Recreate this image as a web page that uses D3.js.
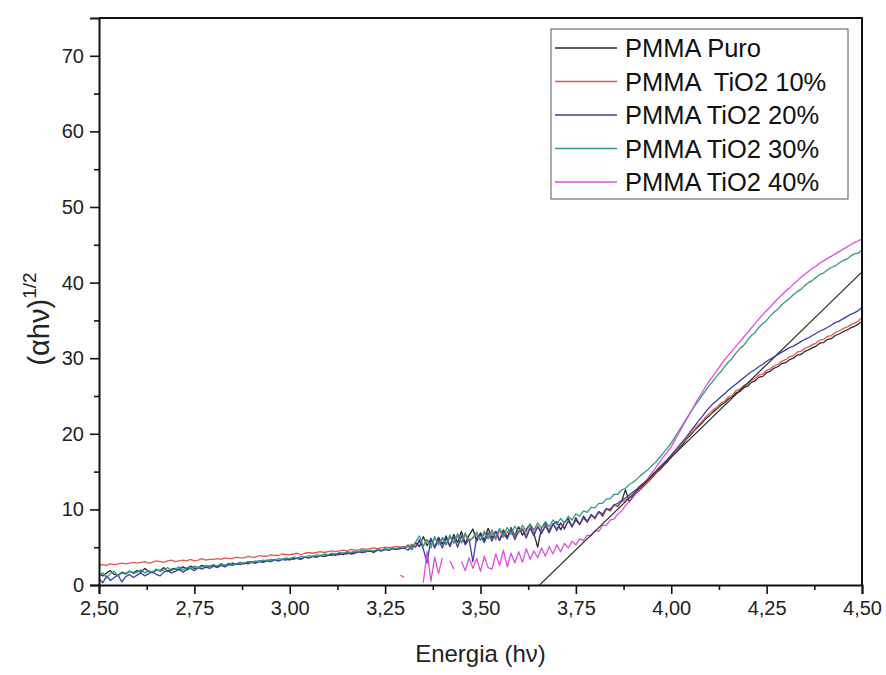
<!DOCTYPE html>
<html>
<head>
<meta charset="utf-8">
<script src="https://cdn.jsdelivr.net/npm/d3@7"></script>
<style>
  body { margin: 0; background: #fff; }
  svg { font-family: "Liberation Sans", Arial, sans-serif; }
</style>
</head>
<body>
<svg id="chart" width="886" height="675"></svg>
<script>
// energy grid, 2.50 .. 4.50 every 0.01 eV
const energy = d3.range(0, 201).map(i => +(2.5 + i * 0.01).toFixed(2));

const puro = [
  1.5, 1.2, 1.6, 1.9, 1.4, 1.3, 1.7, 1.5, 1.8, 1.6,
  1.9, 1.7, 2.2, 1.8, 1.6, 2.0, 1.9, 2.3, 1.8, 2.1,
  2.2, 2.0, 2.4, 2.1, 2.5, 2.2, 2.3, 2.6, 2.3, 2.5,
  2.6, 2.4, 2.8, 2.6, 2.7, 2.9, 2.7, 3.0, 2.8, 3.0,
  3.1, 2.9, 3.2, 3.0, 3.3, 3.1, 3.4, 3.2, 3.4, 3.5,
  3.3, 3.6, 3.5, 3.4, 3.7, 3.6, 3.8, 3.7, 3.9, 3.8,
  3.9, 4.1, 3.9, 4.2, 4.0, 4.3, 4.1, 4.2, 4.4, 4.3,
  4.4, 4.5, 4.3, 4.6, 4.5, 4.7, 4.6, 4.8, 4.7, 4.9,
  4.8, 5.3, 4.7, 5.6, 5.1, 6.4, 5.2, 6.1, 5.0, 6.3,
  5.4, 6.5, 5.1, 6.7, 5.6, 7.1, 5.5, 6.6, 7.4, 5.8,
  6.9, 5.9, 7.5, 6.2, 7.1, 5.9, 7.3, 6.3, 7.6, 6.5,
  7.7, 6.6, 7.4, 8.0, 6.8, 5.0, 7.6, 8.2, 7.0, 8.0,
  8.4, 7.3, 8.3, 8.8, 7.7, 8.9, 8.0, 9.1, 8.4, 9.3,
  8.8, 9.7, 9.1, 10.1, 9.8, 10.6, 10.4, 11.1, 12.6, 11.0,
  11.8, 12.2, 12.7, 13.2, 13.7, 14.2, 14.8, 15.2, 15.8, 16.3,
  16.9, 17.5, 18.1, 18.6, 19.3, 19.8, 20.4, 20.9, 21.4, 22.0,
  22.4, 22.9, 23.3, 23.8, 24.1, 24.6, 24.9, 25.4, 25.6, 26.1,
  26.3, 26.8, 27.0, 27.5, 27.6, 28.1, 28.3, 28.7, 28.9, 29.3,
  29.4, 29.8, 30.0, 30.4, 30.5, 30.9, 31.1, 31.4, 31.6, 32.0,
  32.1, 32.5, 32.6, 33.0, 33.2, 33.5, 33.7, 34.0, 34.2, 34.5,
  34.9
];

const tio2_10 = [
  2.6, 2.7, 2.6, 2.8, 2.7, 2.8, 2.9, 2.8, 2.9, 3.0,
  2.9, 3.0, 3.1, 2.9, 3.0, 3.2, 3.1, 3.0, 3.2, 3.3,
  3.1, 3.2, 3.3, 3.2, 3.4, 3.2, 3.3, 3.5, 3.3, 3.4,
  3.4, 3.5, 3.4, 3.6, 3.5, 3.5, 3.7, 3.6, 3.6, 3.8,
  3.7, 3.7, 3.9, 3.8, 3.8, 4.0, 3.9, 3.9, 4.1, 4.0,
  4.0, 4.1, 4.2, 4.0, 4.2, 4.3, 4.2, 4.3, 4.4, 4.3,
  4.4, 4.5, 4.4, 4.5, 4.6, 4.5, 4.7, 4.6, 4.6, 4.8,
  4.7, 4.8, 4.9, 4.8, 4.9, 5.0, 4.9, 5.0, 5.1, 5.0,
  5.1, 5.0, 5.4, 5.1, 5.7, 5.2, 6.0, 5.3, 6.2, 5.5,
  6.1, 5.3, 6.3, 5.7, 6.4, 5.6, 6.6, 5.8, 6.2, 6.7,
  5.9, 6.8, 6.1, 6.9, 6.0, 7.2, 6.3, 7.0, 7.4, 6.4,
  7.2, 7.5, 6.6, 7.6, 6.9, 7.8, 7.0, 7.9, 7.3, 8.1,
  7.5, 8.2, 7.6, 8.4, 7.9, 8.6, 8.1, 8.9, 8.5, 9.2,
  8.8, 9.6, 9.3, 10.0, 9.9, 10.5, 10.5, 11.0, 11.2, 11.6,
  11.9, 12.4, 12.8, 13.3, 13.8, 14.3, 14.8, 15.3, 15.9, 16.4,
  17.0, 17.6, 18.2, 18.8, 19.4, 20.0, 20.5, 21.1, 21.6, 22.2,
  22.7, 23.2, 23.5, 24.1, 24.3, 24.9, 25.1, 25.7, 25.9, 26.4,
  26.6, 27.1, 27.3, 27.8, 27.9, 28.4, 28.6, 29.0, 29.2, 29.6,
  29.8, 30.2, 30.3, 30.8, 30.9, 31.3, 31.5, 31.8, 32.0, 32.4,
  32.5, 32.9, 33.0, 33.4, 33.6, 33.9, 34.1, 34.4, 34.6, 34.9,
  35.4
];

const tio2_20 = [
  0.8, 0.3, 1.2, 0.6, 1.0, 1.3, 0.4, 1.1, 1.4, 1.0,
  1.3, 1.6, 1.2, 1.5, 1.8, 1.4, 1.2, 1.7, 1.9, 1.6,
  1.8, 2.1, 1.7, 2.0, 2.2, 1.9, 2.3, 2.1, 2.4, 2.2,
  2.5, 2.3, 2.6, 2.4, 2.7, 2.6, 2.8, 2.7, 2.9, 2.8,
  3.0, 2.9, 3.1, 3.0, 3.2, 3.1, 3.3, 3.2, 3.4, 3.3,
  3.5, 3.4, 3.6, 3.5, 3.7, 3.6, 3.8, 3.7, 3.9, 3.8,
  4.0, 3.9, 4.1, 4.0, 4.2, 4.1, 4.3, 4.2, 4.4, 4.3,
  4.4, 4.5, 4.4, 4.6, 4.5, 4.7, 4.6, 4.8, 4.7, 4.8,
  4.9, 4.6, 5.2, 5.0, 6.0, 4.8, 2.9, 6.2, 4.9, 6.0,
  4.9, 6.2, 5.1, 6.4, 5.0, 6.5, 5.3, 6.1, 3.1, 6.3,
  6.6, 5.6, 6.9, 5.8, 7.1, 5.9, 6.9, 6.1, 7.3, 6.0,
  7.1, 7.3, 6.2, 7.5, 6.5, 7.7, 6.8, 7.8, 6.9, 8.1,
  7.2, 8.2, 7.4, 8.5, 7.7, 8.6, 8.0, 8.9, 8.3, 9.3,
  8.9, 9.7, 9.4, 10.1, 10.0, 10.6, 10.8, 11.2, 11.5, 11.9,
  12.3, 12.7, 13.2, 13.6, 14.1, 14.6, 15.1, 15.6, 16.1, 16.6,
  17.2, 17.8, 18.4, 19.0, 19.6, 20.3, 20.9, 21.6, 22.2, 22.9,
  23.5, 24.0, 24.4, 24.9, 25.3, 25.8, 26.2, 26.6, 27.0, 27.4,
  27.8, 28.2, 28.5, 28.9, 29.2, 29.6, 29.9, 30.2, 30.5, 30.8,
  31.1, 31.4, 31.6, 31.9, 32.2, 32.5, 32.7, 33.0, 33.3, 33.6,
  33.8, 34.1, 34.4, 34.7, 34.9, 35.2, 35.5, 35.8, 36.0, 36.3,
  36.7
];

const tio2_30 = [
  1.3, 1.6, 0.9, 1.5, 1.8, 1.2, 1.6, 1.4, 1.9, 1.5,
  1.7, 2.0, 1.6, 1.9, 1.7, 2.1, 1.8, 2.0, 2.3, 1.9,
  2.1, 2.4, 2.0, 2.3, 2.2, 2.5, 2.3, 2.4, 2.6, 2.5,
  2.7, 2.5, 2.8, 2.6, 2.9, 2.7, 2.8, 3.0, 2.9, 3.1,
  3.0, 3.2, 3.1, 3.3, 3.2, 3.4, 3.3, 3.5, 3.4, 3.6,
  3.5, 3.7, 3.6, 3.8, 3.7, 3.9, 3.8, 4.0, 3.9, 4.1,
  4.0, 4.2, 4.1, 4.3, 4.2, 4.4, 4.3, 4.5, 4.4, 4.6,
  4.5, 4.6, 4.5, 4.7, 4.6, 4.8, 4.7, 4.9, 4.8, 5.0,
  4.9, 5.3, 4.8, 5.7, 6.5, 5.1, 6.0, 4.9, 6.4, 5.3,
  6.3, 5.4, 6.6, 5.5, 6.8, 5.6, 6.9, 5.8, 6.3, 7.0,
  5.9, 7.1, 6.2, 7.3, 6.3, 7.5, 6.5, 7.6, 6.7, 7.8,
  6.9, 7.9, 7.1, 8.1, 7.3, 8.2, 7.5, 8.4, 7.7, 8.6,
  8.0, 8.8, 8.2, 9.1, 8.6, 9.4, 9.1, 9.8, 9.6, 10.3,
  10.2, 10.8, 10.8, 11.4, 11.4, 12.0, 12.0, 12.6, 12.8, 13.3,
  13.6, 14.0, 14.5, 14.9, 15.3, 15.8, 16.3, 16.9, 17.5, 18.1,
  18.8, 19.6, 20.4, 21.2, 22.0, 22.8, 23.6, 24.3, 25.0, 25.7,
  26.4, 27.0, 27.7, 28.2, 28.9, 29.5, 30.0, 30.7, 31.3, 31.7,
  32.4, 33.0, 33.4, 34.1, 34.6, 35.0, 35.6, 36.1, 36.5, 37.1,
  37.5, 37.9, 38.4, 38.8, 39.1, 39.6, 40.0, 40.3, 40.7, 41.1,
  41.3, 41.7, 42.0, 42.2, 42.6, 42.9, 43.1, 43.5, 43.8, 43.9,
  44.3
];

// null = no data drawn (gaps in the 40% trace)
const tio2_40 = [
  null, null, null, null, null, null, null, null, null, null,
  null, null, null, null, null, null, null, null, null, null,
  null, null, null, null, null, null, null, null, null, null,
  null, null, null, null, null, null, null, null, null, null,
  null, null, null, null, null, null, null, null, null, null,
  null, null, null, null, null, null, null, null, null, null,
  null, null, null, null, null, null, null, null, null, null,
  null, null, null, null, null, null, null, null, null, 1.3,
  1.0, null, null, null, null, 0.3, 4.4, 0.5, 3.7, 1.5,
  3.6, null, 3.2, 2.1, null, 3.1, 1.9, 3.6, 2.2, 3.5,
  1.8, 3.8, 2.3, 2.1, 4.1, 2.6, 4.6, 2.4, 4.2, 2.9,
  4.4, 3.0, 4.8, 3.4, 4.5, 3.6, 4.9, 3.8, 5.1, 4.1,
  5.3, 4.4, 5.5, 4.9, 5.8, 5.3, 6.1, 5.9, 6.6, 6.5,
  7.2, 7.1, 7.9, 7.9, 8.6, 8.7, 9.4, 9.8, 10.5, 11.0,
  11.6, 12.2, 12.9, 13.5, 14.2, 14.9, 15.6, 16.3, 17.0, 17.6,
  18.3, 19.2, 20.1, 21.0, 21.9, 22.8, 23.7, 24.6, 25.4, 26.2,
  27.0, 27.7, 28.4, 29.1, 29.8, 30.4, 31.0, 31.6, 32.2, 32.8,
  33.4, 34.0, 34.6, 35.2, 35.8, 36.3, 36.8, 37.4, 37.9, 38.4,
  38.9, 39.3, 39.8, 40.2, 40.7, 41.1, 41.5, 41.9, 42.2, 42.6,
  42.9, 43.2, 43.5, 43.8, 44.1, 44.4, 44.7, 45.0, 45.3, 45.5,
  45.8
];

// linear extrapolation line drawn on the pure PMMA curve
const fitEnergy = [3.655, 4.5];
const fitValue = [0, 41.4];

const seriesNames = ["PMMA Puro", "PMMA  TiO2 10%", "PMMA TiO2 20%", "PMMA TiO2 30%", "PMMA TiO2 40%"];
const seriesColors = ["#2b2b2b", "#df5a4e", "#3c3fa6", "#359a88", "#dc4fdc"];
const seriesValues = [puro, tio2_10, tio2_20, tio2_30, tio2_40];

const xTicks = [2.5, 2.75, 3.0, 3.25, 3.5, 3.75, 4.0, 4.25, 4.5];
const yTicks = [0, 10, 20, 30, 40, 50, 60, 70];

const margin = {top: 18, right: 24, bottom: 90, left: 99};
const width = 886 - margin.left - margin.right;
const height = 675 - margin.top - margin.bottom;

const svg = d3.select("#chart");
const g = svg.append("g").attr("transform", `translate(${margin.left},${margin.top})`);

const x = d3.scaleLinear().domain([2.5, 4.5]).range([0, width]);
const y = d3.scaleLinear().domain([0, 75]).range([height, 0]);

// clip so nothing spills out of the frame
g.append("defs").append("clipPath").attr("id", "clip")
  .append("rect").attr("width", width).attr("height", height);

const plot = g.append("g").attr("clip-path", "url(#clip)");

const line = d3.line()
  .defined(d => d[1] !== null)
  .x(d => x(d[0]))
  .y(d => y(d[1]));

seriesValues.forEach((vals, k) => {
  plot.append("path")
    .datum(energy.map((e, i) => [e, vals[i]]))
    .attr("fill", "none")
    .attr("stroke", seriesColors[k])
    .attr("stroke-width", 1.3)
    .attr("stroke-linejoin", "round")
    .attr("d", line);
});

plot.append("path")
  .datum(fitEnergy.map((e, i) => [e, fitValue[i]]))
  .attr("fill", "none")
  .attr("stroke", "#333")
  .attr("stroke-width", 1.2)
  .attr("d", line);

// axes
const fmt = d => d3.format(".2f")(d).replace(".", ",");

g.append("g")
  .attr("transform", `translate(0,${height})`)
  .call(d3.axisBottom(x).tickValues(xTicks).tickFormat(fmt).tickSize(9).tickPadding(7));

g.append("g")
  .attr("transform", `translate(0,${height})`)
  .call(d3.axisBottom(x).tickValues(d3.range(2.625, 4.5, 0.25)).tickFormat("").tickSize(5))
  .call(a => a.select(".domain").remove());

g.append("g")
  .call(d3.axisLeft(y).tickValues(yTicks).tickSize(9).tickPadding(6));

g.append("g")
  .call(d3.axisLeft(y).tickValues(d3.range(5, 70, 10)).tickFormat("").tickSize(5))
  .call(a => a.select(".domain").remove());

g.selectAll(".tick line").attr("stroke", "#111").attr("stroke-width", 1.6);
g.selectAll(".domain").attr("stroke", "#111").attr("stroke-width", 2);
g.selectAll(".tick text")
  .attr("fill", "#222")
  .style("font-size", "20px")
  .style("font-family", "'Liberation Sans', Arial, sans-serif");

// top and right frame
g.append("path")
  .attr("d", `M0,0H${width}V${height}`)
  .attr("fill", "none")
  .attr("stroke", "#111")
  .attr("stroke-width", 2);

// axis titles
svg.append("text")
  .attr("x", margin.left + width / 2)
  .attr("y", 662)
  .attr("text-anchor", "middle")
  .style("font-size", "24px")
  .attr("fill", "#222")
  .text("Energia (h\u03bd)");

const yTitle = svg.append("text")
  .attr("transform", `translate(49,319) rotate(-90)`)
  .attr("text-anchor", "middle")
  .style("font-size", "29px")
  .attr("fill", "#222");
yTitle.append("tspan").text("(\u03b1h\u03bd)");
yTitle.append("tspan").attr("dy", -13).style("font-size", "19px").text("1/2");

// legend
const legend = g.append("g").attr("transform", `translate(${551 - margin.left},${29 - margin.top})`);
legend.append("rect")
  .attr("width", 297).attr("height", 170)
  .attr("fill", "#fff")
  .attr("stroke", "#555")
  .attr("stroke-width", 1);

seriesNames.forEach((name, k) => {
  const row = legend.append("g").attr("transform", `translate(0,${19 + k * 33.5})`);
  row.append("line")
    .attr("x1", 4).attr("x2", 66)
    .attr("stroke", seriesColors[k])
    .attr("stroke-width", 1.3);
  row.append("text")
    .attr("x", 74)
    .attr("dy", "0.36em")
    .style("font-size", "25.5px")
    .style("white-space", "pre")
    .attr("fill", "#111")
    .text(name);
});
</script>
</body>
</html>
